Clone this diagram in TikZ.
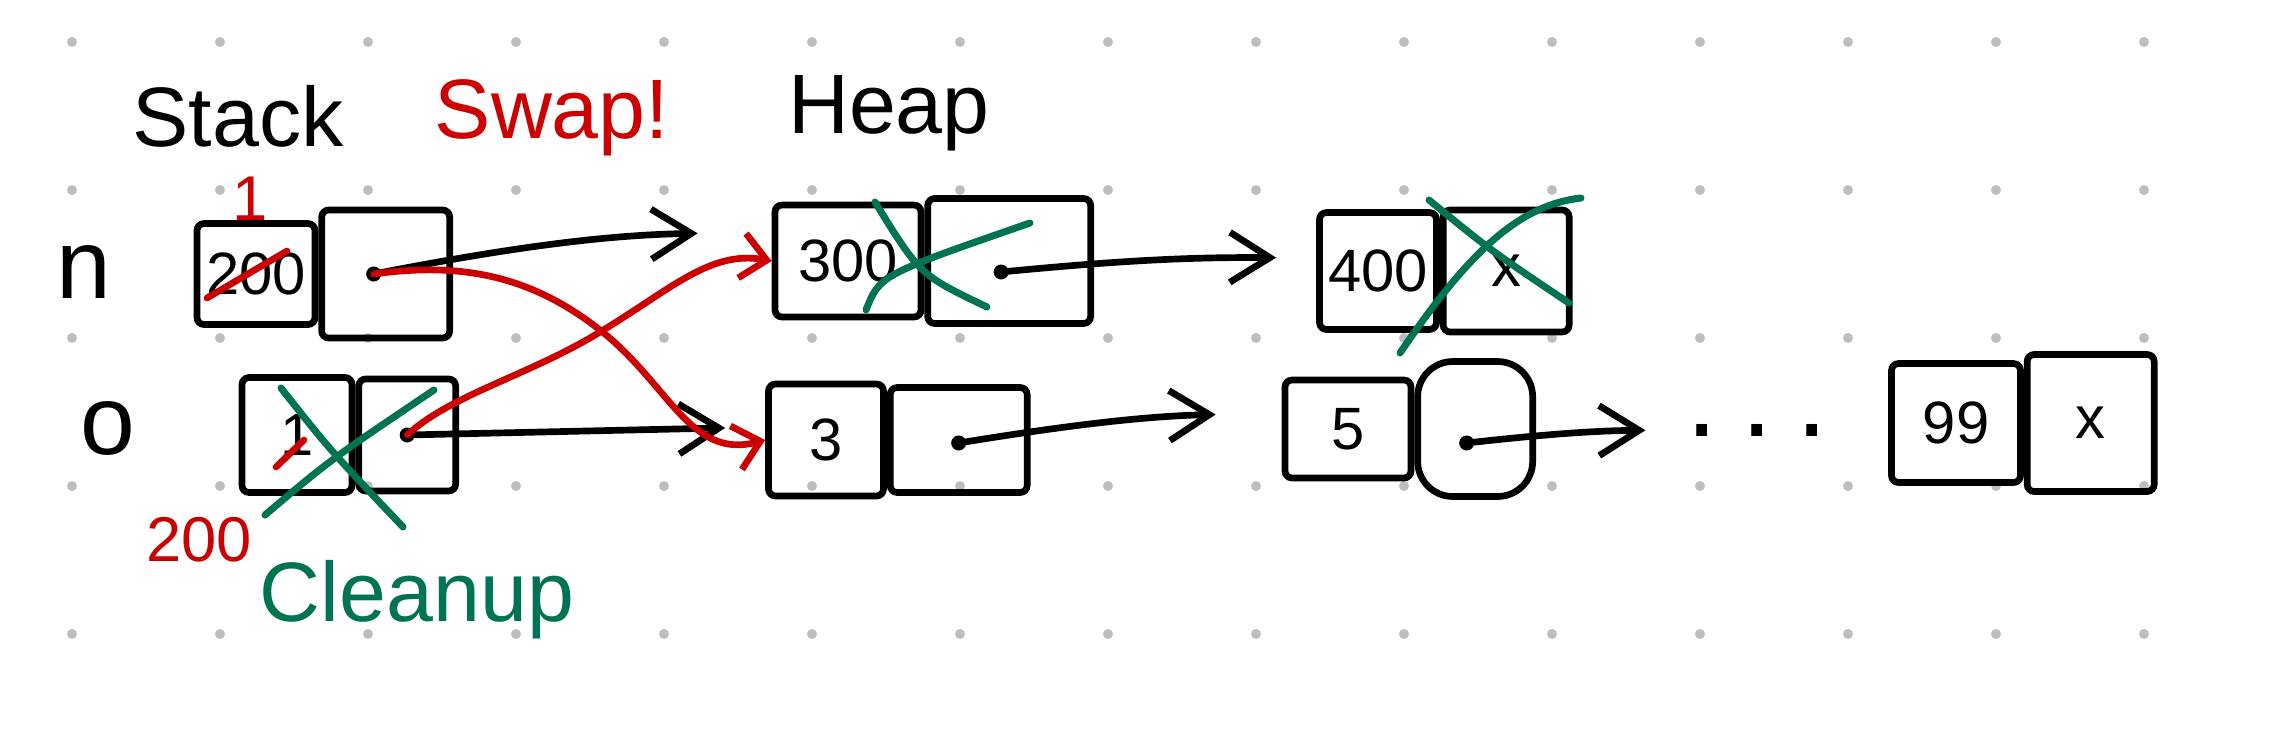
\documentclass[tikz,border=0pt]{standalone}
\usepackage{fontspec}
\setmainfont{Liberation Sans}
\usepackage{tikz}
\usetikzlibrary{arrows.meta, positioning}

\definecolor{swapred}{RGB}{204,0,0}
\definecolor{cleangreen}{RGB}{0,115,82}
\definecolor{griddot}{RGB}{190,190,190}

\begin{document}
\begin{tikzpicture}[
    y=-1cm,
    cell/.style={rectangle, draw, line width=1.9pt, rounded corners=2pt, inner sep=0pt, font=\fontsize{17}{20}\selectfont},
    link/.style={line width=1.9pt, line cap=round, -{Straight Barb[length=4mm, width=5mm]}},
    swaplink/.style={link, draw=swapred, -{Straight Barb[length=2.5mm, width=4.5mm]}},
    strike/.style={draw=swapred, line width=1.9pt, line cap=round},
    cleanup/.style={draw=cleangreen, line width=2pt, line cap=round},
    heading/.style={font=\fontsize{24}{28}\selectfont, inner sep=1pt},
    varname/.style={font=\fontsize{28}{32}\selectfont},
    swapnote/.style={text=swapred, font=\fontsize{18}{22}\selectfont, inner sep=1pt}
]
    \path[use as bounding box, fill=white] (0,0) rectangle (22.85,7.30);

    % Dot grid
    \foreach \i in {0,...,14}
        \foreach \j in {0,...,4}
            \fill[griddot] ({0.72+1.48*\i},{0.42+1.48*\j}) circle (0.05);

    % Headings
    \node[heading] (stack) at (2.38,1.16) {Stack};
    \node[heading, text=swapred] (swap) at (5.52,1.18) {Swap!};
    \node[heading] (heap) at (8.89,1.13) {Heap};

    % Stack
    \node[varname] (nname) at (0.84,2.72) {n};
    \node[varname] (oname) at (1.08,4.28) {o};

    \node[cell, minimum width=1.18cm, minimum height=1.01cm] (nval) at (2.56,2.74) {200};
    \node[cell, minimum width=1.28cm, minimum height=1.28cm, right=0pt of nval] (nptr) {};
    \node[cell, minimum width=1.10cm, minimum height=1.15cm] (oval) at (2.97,4.35) {1};
    \node[cell, minimum width=0.97cm, minimum height=1.12cm, right=0pt of oval] (optr) {};

    % Heap
    \node[cell, minimum width=1.46cm, minimum height=1.12cm] (h300) at (8.48,2.61) {300};
    \node[cell, minimum width=1.63cm, minimum height=1.25cm, right=0pt of h300] (h300p) {};
    \node[cell, minimum width=1.17cm, minimum height=1.17cm] (h400) at (13.78,2.71) {400};
    \node[cell, minimum width=1.26cm, minimum height=1.22cm, right=0pt of h400] (h400p) {x};

    \node[cell, minimum width=1.15cm, minimum height=1.12cm] (h3) at (8.26,4.40) {3};
    \node[cell, minimum width=1.37cm, minimum height=1.05cm, right=0pt of h3] (h3p) {};
    \node[cell, minimum width=1.26cm, minimum height=0.98cm] (h5) at (13.48,4.29) {5};
    \node[cell, minimum width=1.15cm, minimum height=1.35cm, rounded corners=10pt, right=0pt of h5] (h5p) {};
    \node[font=\fontsize{32}{36}\selectfont, inner sep=0pt] (more) at (17.57,4.30) {.\hspace{2.4mm}.\hspace{2.4mm}.};
    \node[cell, minimum width=1.29cm, minimum height=1.19cm] (h99) at (19.56,4.23) {99};
    \node[cell, minimum width=1.27cm, minimum height=1.37cm, right=0pt of h99] (h99p) {x};

    % Pointer dots
    \coordinate (ndot) at ([xshift=-1.2mm]nptr.center);
    \coordinate (odot) at (optr.center);
    \coordinate (h300dot) at ([xshift=-0.8mm, yshift=-1.1mm]h300p.center);
    \coordinate (h3dot) at ([yshift=-0.3mm]h3p.center);
    \coordinate (h5dot) at ([xshift=-0.85mm, yshift=-1.4mm]h5p.center);
    \foreach \d in {ndot, odot, h300dot, h3dot, h5dot}
        \fill (\d) circle (0.075);

    % Arrows
    \draw[link, shorten >=7.4mm] (ndot) to[bend left=5] ([yshift=2.9mm]h300.west);
    \draw[link, shorten >=4mm] (odot) -- ([yshift=1.3mm]h3.west);
    \draw[link, shorten >=4mm] (h300dot) to[bend left=3] ([yshift=1.3mm]h400.west);
    \draw[link, shorten >=6.6mm] (h3dot) to[bend left=4] ([yshift=1.6mm]h5.west);
    \draw[link, shorten >=4mm] (h5dot) to[bend left=3] (more.west);

    % Swap
    \node[swapnote] (newn) at (2.50,1.99) {1};
    \node[swapnote] (newo) at (1.99,5.40) {200};
    \draw[strike] (2.07,2.98) -- (2.87,2.51);
    \draw[strike] (2.76,4.67) -- (3.04,4.40);
    \draw[swaplink] (ndot) .. controls (4.6,2.62) and (5.3,2.75) .. (6.0,3.3)
        .. controls (6.7,3.85) and (6.9,4.6) .. (h3.west);
    \draw[swaplink] (odot) .. controls (4.5,3.95) and (5.3,3.75) .. (6.0,3.32)
        .. controls (6.7,2.9) and (7.1,2.5) .. (h300.west);

    % Cleanup
    \node[font=\fontsize{24}{28}\selectfont, text=cleangreen] (clean) at (4.17,6.00) {Cleanup};
    \draw[cleanup] (2.81,3.88) .. controls (3.3,4.5) .. (4.03,5.27);
    \draw[cleanup] (2.65,5.15) .. controls (3.3,4.6) .. (4.34,3.90);
    \draw[cleanup] (8.75,2.02) .. controls (9.2,2.75) .. (9.87,3.07);
    \draw[cleanup] (8.66,3.10) .. controls (8.8,2.75) .. (10.30,2.23);
    \draw[cleanup] (14.29,2.00) .. controls (14.9,2.5) .. (15.69,3.03);
    \draw[cleanup] (14.00,3.53) .. controls (14.7,2.5) and (15.2,2.05) .. (15.81,1.98);

\end{tikzpicture}
\end{document}
